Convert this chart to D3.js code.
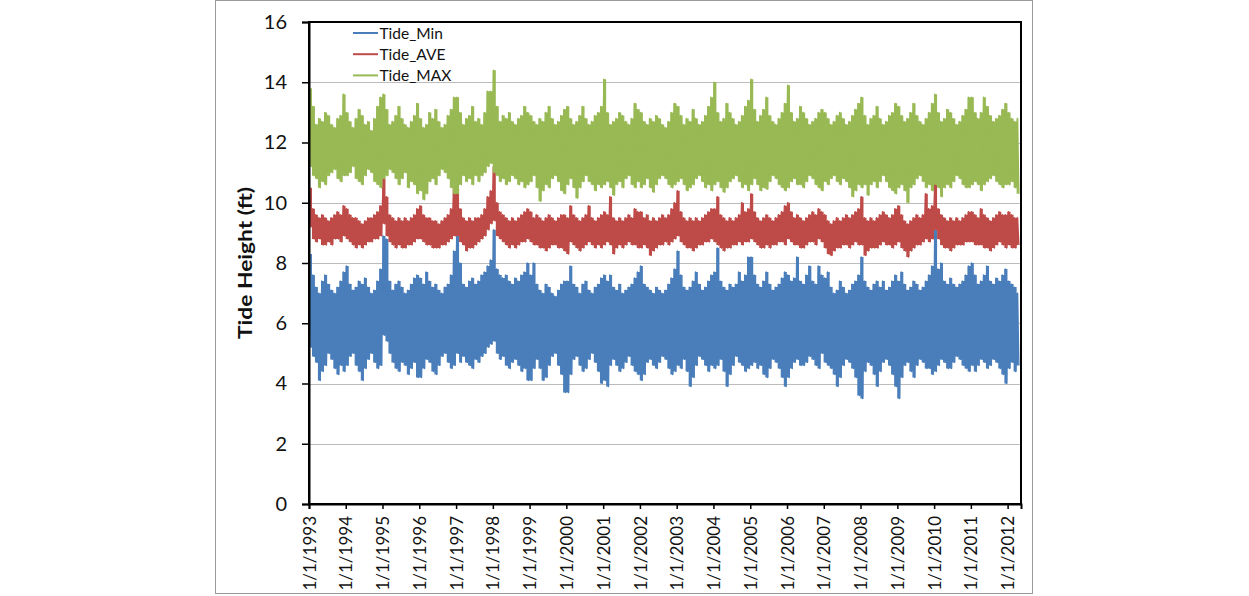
<!DOCTYPE html>
<html><head><meta charset="utf-8">
<script src="https://cdn.jsdelivr.net/npm/d3@7"></script>
<style>html,body{margin:0;padding:0;background:#fff;}svg{display:block;font-family:Lato,"Open Sans",sans-serif;}</style>
</head><body><svg id="chart" width="1249" height="596"></svg>
<script>
// ---------- data (monthly envelope: hi / lo per month, Jan 1993 .. Apr 2012) ----------
const seriesNames = ["Tide_Min", "Tide_AVE", "Tide_MAX"];
const seriesColors = ["#4a7ebb", "#be4b48", "#98b954"];
const yTicks = [0, 2, 4, 6, 8, 10, 12, 14, 16];
const tickYears = [1993,1994,1995,1996,1997,1998,1999,2000,2001,2002,2003,2004,2005,2006,2007,2008,2009,2010,2011,2012];
const tickLabels = ["1/1/1993","1/1/1994","1/1/1995","1/1/1996","1/1/1997","1/1/1998","1/1/1999","1/1/2000","1/1/2001","1/1/2002",
                    "1/1/2003","1/1/2004","1/1/2005","1/1/2006","1/1/2007","1/1/2008","1/1/2009","1/1/2010","1/1/2011","1/1/2012"];

const minHi = [
 8.3,7.6,7.2,7.0,7.4,7.6,7.3,7.1,7.0,7.2,7.4,7.7,
 7.9,7.3,7.1,7.2,7.4,7.3,7.5,7.2,7.0,7.1,7.4,7.8,
 8.9,8.8,7.4,7.1,7.3,7.4,7.2,7.0,7.1,7.3,7.5,7.6,
 7.5,7.3,7.7,7.4,7.2,7.3,7.1,7.0,7.2,7.3,7.6,8.4,
 9.0,8.0,7.3,7.2,7.4,7.5,7.3,7.4,7.6,7.7,7.9,8.1,
 9.1,7.8,7.6,7.5,7.6,7.4,7.3,7.5,7.4,7.6,7.7,8.0,
 7.6,8.0,7.3,7.1,7.0,7.3,7.2,7.0,6.9,7.1,7.3,7.4,
 7.4,7.9,7.3,7.2,7.0,7.3,7.4,7.1,7.0,7.2,7.3,7.5,
 7.6,7.4,7.6,7.2,7.1,7.3,7.0,7.1,7.2,7.3,7.5,7.7,
 7.9,7.3,7.2,7.1,7.0,7.2,7.1,7.0,7.1,7.3,7.5,7.8,
 8.4,7.6,7.2,7.1,7.2,7.4,7.7,7.3,7.1,7.2,7.4,7.6,
 7.7,8.5,7.4,7.2,7.1,7.3,7.2,7.3,7.7,7.4,7.6,8.2,
 8.2,7.6,7.3,7.2,7.4,7.7,7.3,7.1,7.2,7.3,7.5,7.7,
 7.6,7.4,7.5,8.2,7.4,7.3,7.6,7.9,7.4,7.3,7.9,7.6,
 7.5,7.7,7.2,7.0,7.1,7.4,7.2,7.0,7.1,7.3,7.4,7.6,
 8.2,7.4,7.2,7.1,7.3,7.4,7.2,7.4,7.1,7.2,7.4,7.6,
 7.4,7.7,7.3,7.1,7.2,7.4,7.3,7.1,7.2,7.4,7.6,7.9,
 9.1,7.8,8.0,7.4,7.3,7.5,7.3,7.2,7.3,7.4,7.6,7.9,
 8.0,7.6,7.3,7.4,7.6,7.9,7.4,7.3,7.5,7.4,7.6,7.8,
 7.4,7.3,7.2,7.0];
const minLo = [
 5.2,4.9,4.7,4.1,4.4,4.6,5.0,4.8,4.5,4.3,4.6,4.4,
 4.6,4.9,5.0,4.6,4.4,4.1,4.5,4.8,5.0,4.7,4.5,4.6,
 5.6,5.4,5.0,4.7,4.5,4.4,4.7,4.6,4.3,4.5,4.7,4.2,
 4.2,4.5,4.8,4.7,4.4,4.3,4.6,4.9,5.0,4.7,4.5,4.6,
 5.0,4.7,4.9,4.7,4.6,4.5,4.8,4.7,4.9,5.0,5.2,5.3,
 5.4,5.0,4.8,4.9,4.6,4.5,4.7,4.8,4.6,4.4,4.5,4.1,
 4.1,4.5,4.8,4.5,4.1,4.2,4.6,4.9,5.0,4.6,4.3,3.7,
 3.7,4.3,4.8,4.9,4.6,4.4,4.5,4.8,5.0,4.7,4.4,4.0,
 4.1,3.9,4.6,4.8,4.6,4.4,4.5,4.7,4.9,4.6,4.4,4.3,
 4.1,4.3,4.7,4.8,4.6,4.5,4.7,4.9,4.8,4.5,4.3,4.4,
 4.6,4.5,4.8,4.4,3.9,4.2,4.6,4.9,4.8,4.6,4.4,4.6,
 4.5,4.6,4.8,4.4,3.9,4.3,4.6,4.9,4.7,4.6,4.4,4.5,
 4.6,4.7,4.5,4.6,4.3,4.2,4.5,4.8,4.7,4.5,4.2,3.9,
 4.2,4.5,4.7,4.8,4.6,4.6,4.7,4.9,4.8,4.6,4.5,5.0,
 4.7,4.6,4.5,4.3,3.9,4.2,4.6,4.8,4.7,4.5,4.2,3.6,
 3.5,4.4,4.7,4.6,4.3,3.9,4.4,4.7,4.8,4.6,4.3,3.9,
 3.5,4.2,4.6,4.7,4.4,4.2,4.6,4.8,4.7,4.5,4.5,4.3,
 4.4,4.6,4.8,4.7,4.5,4.5,4.7,4.9,4.8,4.6,4.5,4.4,
 4.6,4.4,4.6,4.8,4.7,4.5,4.6,4.8,4.7,4.5,4.3,4.0,
 4.5,4.7,4.4,4.6];
const aveHi = [
 10.5,9.8,9.6,9.5,9.6,9.5,9.4,9.5,9.6,9.7,9.6,9.9,
 9.8,9.6,9.5,9.5,9.4,9.3,9.4,9.5,9.5,9.6,9.7,9.9,
 10.8,10.2,9.6,9.5,9.4,9.5,9.4,9.5,9.4,9.5,9.6,9.8,
 9.9,9.6,9.5,9.5,9.4,9.4,9.3,9.4,9.5,9.6,9.8,10.6,
 10.5,9.8,9.5,9.4,9.5,9.4,9.5,9.5,9.6,9.8,10.2,10.4,
 11.2,10.0,9.7,9.6,9.5,9.4,9.5,9.4,9.5,9.6,9.7,9.8,
 9.7,9.5,9.6,9.5,9.4,9.5,9.6,9.5,9.4,9.5,9.6,9.6,
 9.5,9.9,9.6,9.5,9.4,9.5,9.6,9.9,9.5,9.4,9.5,9.6,
 9.7,9.6,10.2,9.5,9.4,9.5,9.4,9.5,9.6,9.5,9.8,9.7,
 9.7,9.5,9.6,9.4,9.5,9.4,9.5,9.6,9.5,9.6,9.8,10.0,
 10.4,9.7,9.5,9.4,9.5,9.4,9.5,9.4,9.5,9.6,9.7,9.8,
 9.8,10.2,9.6,9.5,9.4,9.5,9.4,9.5,9.6,10.0,9.7,9.8,
 10.3,9.7,9.5,9.4,9.5,9.6,9.5,9.4,9.5,9.6,9.7,9.9,
 10.0,9.7,9.5,9.6,9.5,9.4,9.5,9.6,9.7,9.6,9.8,9.7,
 9.6,9.4,9.3,9.4,9.5,9.4,9.5,9.6,9.5,9.6,9.7,9.8,
 10.2,9.5,9.4,9.5,9.4,9.5,9.6,9.7,9.6,9.5,9.6,9.8,
 9.9,9.6,9.4,9.3,9.4,9.5,9.6,9.5,9.6,10.3,9.8,9.9,
 10.7,9.8,9.6,9.5,9.4,9.5,9.4,9.5,9.4,9.5,9.6,9.7,
 9.7,9.6,9.5,9.8,9.6,9.5,9.4,9.5,9.6,9.7,9.6,9.6,
 9.7,9.6,9.5,9.5];
const aveLo = [
 9.2,8.8,8.7,8.8,8.6,8.6,8.7,8.6,8.8,8.8,8.7,8.9,
 8.8,8.7,8.6,8.5,8.6,8.5,8.6,8.7,8.7,8.8,8.8,8.9,
 9.3,8.9,8.7,8.6,8.5,8.6,8.5,8.5,8.6,8.6,8.7,8.8,
 8.8,8.7,8.6,8.6,8.5,8.5,8.5,8.6,8.6,8.7,8.8,8.9,
 8.9,8.7,8.6,8.4,8.5,8.5,8.6,8.7,8.8,8.9,9.1,9.3,
 9.4,8.9,8.8,8.7,8.6,8.5,8.6,8.5,8.6,8.7,8.7,8.8,
 8.7,8.6,8.6,8.5,8.5,8.4,8.5,8.6,8.6,8.5,8.5,8.4,
 8.3,8.7,8.6,8.5,8.4,8.5,8.6,8.7,8.6,8.5,8.6,8.5,
 8.6,8.7,8.6,8.3,8.5,8.6,8.5,8.6,8.7,8.6,8.6,8.5,
 8.5,8.6,8.5,8.25,8.4,8.5,8.6,8.6,8.7,8.6,8.7,8.8,
 8.9,8.7,8.6,8.5,8.5,8.4,8.5,8.6,8.6,8.7,8.7,8.8,
 8.7,8.6,8.5,8.4,8.5,8.5,8.6,8.6,8.7,8.6,8.7,8.7,
 8.8,8.7,8.6,8.5,8.5,8.6,8.5,8.6,8.6,8.7,8.7,8.6,
 8.8,8.7,8.6,8.6,8.5,8.5,8.6,8.7,8.7,8.6,8.8,8.7,
 8.5,8.3,8.25,8.4,8.5,8.5,8.6,8.6,8.5,8.6,8.7,8.6,
 8.6,8.25,8.4,8.5,8.5,8.5,8.6,8.7,8.6,8.6,8.5,8.6,
 8.7,8.5,8.4,8.2,8.4,8.5,8.6,8.6,8.7,8.8,8.7,8.8,
 9.1,8.8,8.6,8.5,8.5,8.4,8.5,8.6,8.6,8.6,8.7,8.7,
 8.7,8.6,8.6,8.6,8.5,8.5,8.4,8.5,8.6,8.7,8.6,8.5,
 8.6,8.5,8.5,8.6];
const maxHi = [
 13.8,13.2,12.6,12.8,12.7,13.0,12.9,12.6,12.5,12.8,12.9,13.6,
 13.0,12.7,12.5,12.8,13.1,12.9,12.6,12.7,12.4,12.8,13.2,13.5,
 13.6,13.1,12.6,12.7,12.9,13.2,12.8,12.6,12.5,12.7,12.9,13.3,
 12.8,12.5,12.6,13.0,12.8,13.1,12.7,12.5,12.6,12.9,13.1,13.5,
 13.5,13.0,12.6,12.8,12.9,13.2,12.7,12.8,12.6,13.0,13.7,13.7,
 14.4,13.2,12.7,12.9,12.8,13.0,12.7,12.6,12.8,12.9,13.2,13.0,
 12.9,12.7,12.6,12.8,12.7,13.0,13.2,12.8,12.6,12.7,12.9,13.1,
 13.2,12.8,12.6,12.7,12.9,13.2,12.8,12.6,12.7,12.9,13.0,13.2,
 14.1,13.0,12.6,12.7,12.8,13.0,12.9,12.7,12.6,12.8,13.3,13.1,
 13.0,12.7,12.6,12.8,12.7,12.9,12.8,12.6,12.5,12.7,13.0,13.3,
 13.2,12.9,12.6,12.8,12.7,13.1,12.8,12.6,12.7,12.9,13.2,13.5,
 14.0,13.0,12.7,12.8,13.3,13.0,12.8,12.6,12.7,12.9,13.2,13.4,
 14.1,13.1,12.7,12.9,13.1,13.5,12.9,12.7,12.6,12.8,13.0,13.3,
 13.9,13.0,12.7,12.8,13.2,13.0,12.8,12.6,12.7,12.8,13.0,13.1,
 13.0,12.8,12.6,12.7,12.9,13.0,12.8,12.6,12.7,12.9,13.1,13.3,
 13.5,12.9,12.6,12.8,12.9,13.2,12.8,12.6,12.7,12.9,13.0,13.3,
 13.2,12.9,12.7,12.8,13.0,13.3,12.9,12.7,12.6,12.8,13.0,13.3,
 13.6,13.0,12.7,12.8,13.1,13.0,12.8,12.6,12.7,12.9,13.1,13.5,
 13.5,13.0,12.8,13.0,13.5,13.2,12.9,12.7,12.8,12.9,13.1,13.3,
 13.0,12.8,12.7,12.8];
const maxLo = [
 11.2,10.9,10.8,10.5,10.7,10.6,10.9,11.0,11.1,10.8,10.7,10.9,
 10.9,11.0,11.2,10.8,10.7,10.6,10.9,11.1,11.0,10.7,10.6,10.5,
 10.8,10.9,11.1,11.0,10.8,10.6,10.8,11.0,10.5,10.7,10.6,10.3,
 10.4,10.1,10.3,10.7,10.8,10.6,10.9,11.1,11.0,10.8,10.5,10.3,
 10.3,10.6,10.9,10.7,10.8,10.6,10.9,10.7,10.9,11.0,11.2,11.3,
 11.0,10.9,10.7,10.8,10.6,10.7,10.9,10.8,10.6,10.7,10.5,10.6,
 10.7,10.9,10.5,10.05,10.4,10.6,10.5,10.8,10.9,10.7,10.4,10.3,
 10.6,10.8,10.5,10.15,10.5,10.7,10.9,10.7,10.6,10.4,10.6,10.5,
 10.6,10.7,10.5,10.25,10.6,10.7,10.5,10.8,10.9,10.6,10.5,10.7,
 10.5,10.6,10.8,10.5,10.35,10.6,10.8,10.9,10.8,10.6,10.5,10.6,
 10.7,10.8,10.6,10.4,10.5,10.6,10.8,10.9,10.7,10.5,10.6,10.4,
 10.6,10.7,10.5,10.35,10.5,10.7,10.8,10.9,10.7,10.5,10.6,10.4,
 10.6,10.8,10.6,10.4,10.5,10.45,10.7,10.9,10.8,10.6,10.5,10.4,
 10.5,10.7,10.8,10.6,10.6,10.5,10.7,10.9,10.8,10.6,10.5,10.4,
 10.7,10.6,10.8,10.9,10.7,10.6,10.8,10.7,10.5,10.2,10.4,10.6,
 10.5,10.6,10.25,10.6,10.7,10.5,10.7,10.9,10.7,10.5,10.4,10.3,
 10.5,10.6,10.4,10.0,10.5,10.6,10.8,10.9,10.7,10.5,10.6,10.4,
 10.6,10.5,10.2,10.5,10.6,10.5,10.7,10.9,10.8,10.6,10.5,10.5,
 10.6,10.7,10.6,10.4,10.6,10.7,10.8,10.9,10.7,10.6,10.5,10.6,
 10.6,10.7,10.5,10.3];

// ---------- layout ----------
const L = 309, R = 1021, T = 22, B = 504;
const svg = d3.select("#chart");

// outer frame
svg.append("rect").attr("x", 215.5).attr("y", 0.5).attr("width", 817).attr("height", 593)
  .attr("fill", "#fff").attr("stroke", "#9a9a9a").attr("stroke-width", 1);

const months = d3.timeMonth.range(new Date(1993, 0, 1), new Date(2012, 4, 1));
const x = d3.scaleTime().domain([new Date(1993, 0, 1), new Date(2012, 4, 13)]).range([L, R]);
const y = d3.scaleLinear().domain([0, 16]).range([B, T]);

// gridlines
svg.append("g").selectAll("line").data(yTicks.filter(v => v > 0 && v < 16)).join("line")
  .attr("x1", L).attr("x2", R).attr("y1", d => Math.round(y(d)) + 0.5).attr("y2", d => Math.round(y(d)) + 0.5)
  .attr("stroke", "#bcbcbc").attr("stroke-width", 1);

// series: monthly hi / lo pairs
const pairs = [[minHi, minLo], [aveHi, aveLo], [maxHi, maxLo]];
const bandData = pairs.map(([hi, lo]) => months.map((m, i) => ({
  date: new Date(m.getFullYear(), m.getMonth(), 15), hi: hi[i], lo: lo[i] })));
const zigData = pairs.map(([hi, lo]) => months.flatMap((m, i) => [
  { date: new Date(m.getFullYear(), m.getMonth(), 8), v: hi[i] },
  { date: new Date(m.getFullYear(), m.getMonth(), 22), v: lo[i] }]));

svg.append("clipPath").attr("id", "clip").append("rect")
  .attr("x", L).attr("y", T).attr("width", R - L).attr("height", B - T);

const plot = svg.append("g").attr("clip-path", "url(#clip)");
const area = d3.area().curve(d3.curveStep).x(d => x(d.date)).y0(d => y(d.lo)).y1(d => y(d.hi));
const line = d3.line().x(d => x(d.date)).y(d => y(d.v));
seriesNames.forEach((name, i) => {
  const g = plot.append("g");
  g.append("path").datum(bandData[i]).attr("d", area).attr("fill", seriesColors[i]);
  g.append("path").datum(zigData[i]).attr("d", line).attr("fill", "none")
    .attr("stroke", seriesColors[i]).attr("stroke-width", 1.4).attr("stroke-linejoin", "round");
});

// plot border
svg.append("rect").attr("x", L).attr("y", T).attr("width", R - L).attr("height", B - T)
  .attr("fill", "none").attr("stroke", "#000").attr("stroke-width", 2);

// y axis
const yAxis = svg.append("g").attr("transform", `translate(${L},0)`)
  .call(d3.axisLeft(y).tickValues(yTicks).tickSize(7).tickPadding(15).tickFormat(d3.format("d")));
yAxis.select(".domain").attr("stroke", "#000").attr("stroke-width", 2);
yAxis.selectAll(".tick line").attr("stroke", "#000").attr("stroke-width", 1.5);
yAxis.selectAll("text").attr("font-size", 20).attr("fill", "#111").attr("font-family", "Lato, sans-serif");

// x axis
const tickDates = tickYears.map(yr => new Date(yr, 0, 1));
const xAxis = svg.append("g").attr("transform", `translate(0,${B})`)
  .call(d3.axisBottom(x).tickValues(tickDates).tickSize(5).tickFormat((d, i) => tickLabels[i]));
xAxis.select(".domain").attr("stroke", "#000").attr("stroke-width", 2);
xAxis.selectAll(".tick line").attr("stroke", "#000").attr("stroke-width", 1.5);
xAxis.selectAll("text")
  .attr("x", 0).attr("y", 0).attr("dy", "0.36em")
  .attr("transform", "translate(0,12) rotate(-90)")
  .style("text-anchor", "end")
  .attr("font-size", 17).attr("fill", "#111").attr("font-family", "Lato, sans-serif");

// y title
svg.append("text").attr("transform", "translate(252,263) rotate(-90)")
  .attr("text-anchor", "middle").attr("font-size", 19).attr("font-weight", "bold")
  .attr("textLength", 152).attr("lengthAdjust", "spacingAndGlyphs")
  .attr("fill", "#111").text("Tide Height (ft)");

// legend
const lg = svg.append("g");
seriesNames.forEach((name, i) => {
  const yy = 33 + i * 21.2;
  lg.append("line").attr("x1", 353).attr("x2", 378).attr("y1", yy).attr("y2", yy)
    .attr("stroke", seriesColors[i]).attr("stroke-width", 2);
  lg.append("text").attr("x", 379.5).attr("y", yy).attr("dy", "0.36em")
    .attr("font-size", 15.5).attr("fill", "#111").text(name);
});
</script></body></html>
